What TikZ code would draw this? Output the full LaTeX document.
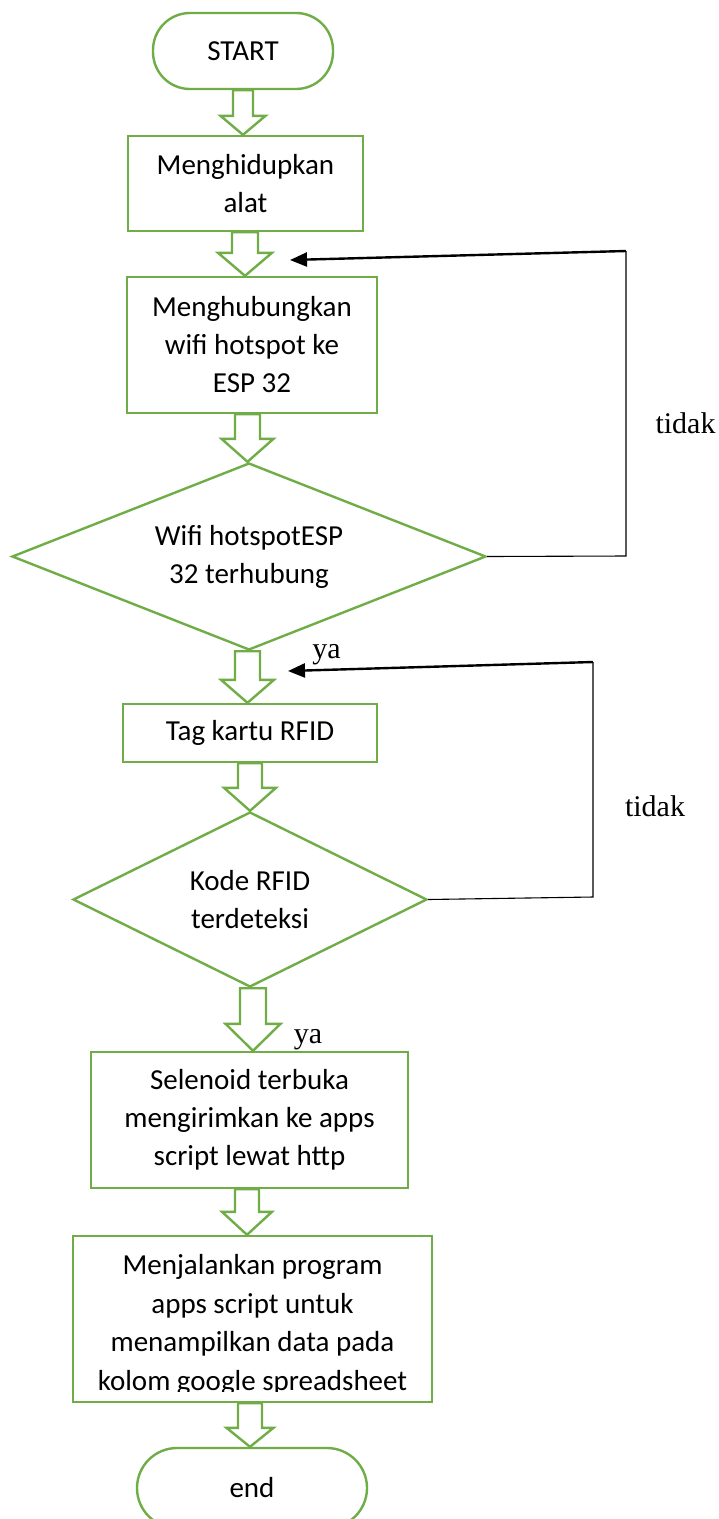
\documentclass[tikz,border=0pt]{standalone}
\usepackage{fontspec}
\setmainfont{Carlito}
\newfontfamily\tnr{Liberation Serif}
\usetikzlibrary{shapes.geometric,arrows.meta,calc}
\definecolor{ogreen}{HTML}{70AD47}
\tikzset{
  gline/.style={draw=ogreen, line width=2.4pt},
  procbox/.style={gline, rectangle, fill=white, inner sep=0pt, align=center, font=\fontsize{29}{38}\selectfont},
  decbox/.style={gline, diamond, fill=white, inner sep=0pt, align=center, font=\fontsize{29}{38}\selectfont},
  blkarrow/.style={draw=ogreen, line width=2.4pt, fill=white, line join=miter},
  fbline/.style={draw=black, line width=1.1pt},
  fbarrow/.style={draw=black, line width=2.4pt, -{Triangle[length=17pt,width=14pt]}},
  lbl/.style={font=\tnr\fontsize{30}{36}\selectfont, inner sep=0pt, anchor=base},
}
% x, source, target, shaft half width, head half width, head length
\newcommand\barrow[6]{%
  \path[blkarrow] let \p1=(#2.south), \p2=(#3.north) in
    (#1pt-#4pt,\y1) -- (#1pt-#4pt,\y2+#6pt) -- (#1pt-#5pt,\y2+#6pt) -- (#1pt,\y2)
    -- (#1pt+#5pt,\y2+#6pt) -- (#1pt+#4pt,\y2+#6pt) -- (#1pt+#4pt,\y1) -- cycle;}
\begin{document}
\begin{tikzpicture}[x=1pt,y=-1pt]
\useasboundingbox (0,0) rectangle (719,1519);
\clip (0,0) rectangle (719,1519);
\fill[white] (0,0) rectangle (719,1519);

\node[procbox, rounded corners=37pt, minimum width=180pt, minimum height=76pt] (start) at (243,51) {START};
\node[procbox, minimum width=235pt, minimum height=95pt] (b1) at (245.5,183.5) {Menghidupkan\\alat};
\node[procbox, minimum width=250pt, minimum height=136pt] (b2) at (252,345) {Menghubungkan\\wifi hotspot ke\\ESP 32};
\node[decbox, aspect=2.53, minimum width=474pt, minimum height=187pt] (d1) at (249,556.5) {Wifi hotspotESP\\32 terhubung};
\node[procbox, minimum width=254pt, minimum height=58pt] (b3) at (250,733) {Tag kartu RFID};
\node[decbox, aspect=2.02, minimum width=354pt, minimum height=175pt] (d2) at (250,899.5) {Kode RFID\\terdeteksi};
\node[procbox, minimum width=317pt, minimum height=136pt] (b4) at (249.5,1120) {Selenoid terbuka\\mengirimkan ke apps\\script lewat http};
\node[procbox, minimum width=359pt, minimum height=166pt] (b5) at (252.5,1319) {};
\begin{scope}
  \clip (73,1236) rectangle (432,1391);
  \node[align=center, inner sep=0pt, font=\fontsize{29}{38.7}\selectfont] (b5t) at (252.5,1325) {Menjalankan program\\apps script untuk\\menampilkan data pada\\kolom google spreadsheet};
\end{scope}
\node[procbox, rounded corners=40pt, minimum width=230pt, minimum height=80pt] (end) at (252,1488) {end};

\barrow{243}{start}{b1}{10}{22.5}{19}
\barrow{245}{b1}{b2}{13}{27}{23}
\barrow{247.5}{b2}{d1}{12.5}{26}{23}
\barrow{247.5}{d1}{b3}{12.5}{26.5}{23}
\barrow{250}{b3}{d2}{12}{26}{23}
\barrow{253}{d2}{b4}{13}{27.5}{27}
\barrow{247}{b4}{b5}{12}{25}{23}
\barrow{250}{b5}{end}{12}{23.5}{19}

\coordinate (f1a) at (626,251);
\coordinate (f1b) at (626,556);
\coordinate (f1t) at (290,260);
\draw[fbline] (d1.east) -- (f1b) -- (f1a);
\draw[fbarrow] (f1a) -- (f1t);

\coordinate (f2a) at (593,662);
\coordinate (f2b) at (593,897);
\coordinate (f2t) at (288,671);
\draw[fbline] (d2.east) -- (f2b) -- (f2a);
\draw[fbarrow] (f2a) -- (f2t);

\node[lbl] (t1) at (685.5,433) {tidak};
\node[lbl] (t2) at (655,816) {tidak};
\node[lbl] (y1) at (326.5,658) {ya};
\node[lbl] (y2) at (308,1043) {ya};
\end{tikzpicture}
\end{document}
